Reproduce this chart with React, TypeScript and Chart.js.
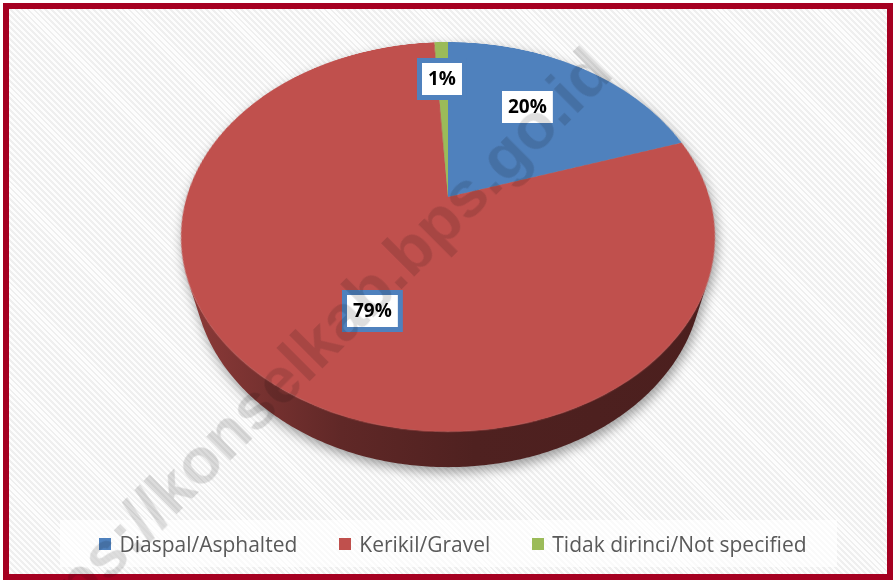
import React, { useEffect, useRef } from "react";
import { Chart, registerables } from "chart.js";
Chart.register(...registerables);

const categories = ["Diaspal/Asphalted", "Kerikil/Gravel", "Tidak dirinci/Not specified"];
const values = [20, 79, 1];
const colors = ["#4F81BD", "#C0504D", "#9BBB59"];
const watermarkText = "https://konselkab.bps.go.id";

const W = 893;
const H = 580;
const CANVAS = 600;
const RADIUS = 261.3;
const CX = 448;
const CY = 197;
const PERSP = 891;
const TILT = 44.4;
const DEPTH3 = 58;
const LABEL_DIST = 0.49;
const LABEL_DROP = 10;

function shade(hex: string, f: number) {
  const n = parseInt(hex.slice(1), 16);
  const r = Math.round(((n >> 16) & 255) * f);
  const g = Math.round(((n >> 8) & 255) * f);
  const b = Math.round((n & 255) * f);
  return `rgb(${r},${g},${b})`;
}

export default function App() {
  const chartRef = useRef<HTMLCanvasElement>(null);
  const sideRef = useRef<HTMLCanvasElement>(null);
  const labelRef = useRef<HTMLCanvasElement>(null);

  useEffect(() => {
    const total = values.reduce((a, b) => a + b, 0);
    const a = (TILT * Math.PI) / 180;
    const ca = Math.cos(a);
    const sa = Math.sin(a);
    // perspective projection of a point of the pie plane (x, y) lowered by depth dz
    const project = (x: number, y: number, dz = 0) => {
      const yr = y * ca + dz * sa;
      const zr = y * sa - dz * ca;
      const w = 1 - zr / PERSP;
      return [CX + x / w, CY + yr / w];
    };

    const overlayPlugin = {
      id: "overlay3d",
      afterDraw(chart: any) {
        const arcs: any[] = chart.getDatasetMeta(0).data;
        if (!arcs.length) return;
        const R = arcs[0].outerRadius;
        const q = Math.min(1, R / (PERSP * sa));
        const v0 = Math.asin(q);
        const v1 = Math.PI - v0;
        const k = (R * sa) / PERSP;
        const rx = R / Math.sqrt(1 - k * k);
        const top = (phi: number, r = R) => project(Math.cos(phi) * r, Math.sin(phi) * r);
        const bot = (phi: number) => project(Math.cos(phi) * R, Math.sin(phi) * R, DEPTH3);
        const N = 240;

        const sctx = sideRef.current!.getContext("2d")!;
        sctx.clearRect(0, 0, W, H);

        // soft shadow of the whole 3D disc (shape drawn off-canvas, only its shadow lands)
        const OFF = 3000;
        sctx.save();
        sctx.beginPath();
        for (let i = 0; i <= N; i++) {
          const [x, y] = top((2 * Math.PI * i) / N);
          if (i === 0) sctx.moveTo(x - OFF, y);
          else sctx.lineTo(x - OFF, y);
        }
        sctx.closePath();
        for (let i = 0; i <= N; i++) {
          const [x, y] = bot(v0 + ((v1 - v0) * i) / N);
          if (i === 0) sctx.moveTo(x - OFF, y);
          else sctx.lineTo(x - OFF, y);
        }
        for (let i = N; i >= 0; i--) {
          const [x, y] = top(v0 + ((v1 - v0) * i) / N);
          sctx.lineTo(x - OFF, y);
        }
        sctx.closePath();
        sctx.shadowColor = "rgba(0,0,0,0.38)";
        sctx.shadowBlur = 12;
        sctx.shadowOffsetX = OFF + 2;
        sctx.shadowOffsetY = 5;
        sctx.fillStyle = "#000";
        sctx.fill("nonzero");
        sctx.restore();

        // side walls, per slice, only where they face the viewer
        arcs.forEach((arc: any, i: number) => {
          const s = Math.max(arc.startAngle, v0);
          const e = Math.min(arc.endAngle, v1);
          if (e <= s) return;
          sctx.beginPath();
          for (let j = 0; j <= N; j++) {
            const [x, y] = top(s + ((e - s) * j) / N);
            if (j === 0) sctx.moveTo(x, y - 0.5);
            else sctx.lineTo(x, y - 0.5);
          }
          for (let j = N; j >= 0; j--) {
            const [x, y] = bot(s + ((e - s) * j) / N);
            sctx.lineTo(x, y);
          }
          sctx.closePath();
          const g = sctx.createLinearGradient(CX - rx, 0, CX + rx, 0);
          const c = colors[i];
          g.addColorStop(0, shade(c, 0.74));
          g.addColorStop(0.3, shade(c, 0.5));
          g.addColorStop(0.55, shade(c, 0.41));
          g.addColorStop(1, shade(c, 0.39));
          sctx.fillStyle = g;
          sctx.fill();
        });

        // data labels: along the on-screen bisector of each projected slice
        const lctx = labelRef.current!.getContext("2d")!;
        lctx.clearRect(0, 0, W, H);
        lctx.font = 'bold 19px "Open Sans"';
        lctx.textAlign = "center";
        lctx.textBaseline = "middle";
        arcs.forEach((arc: any, i: number) => {
          const [sx, sy] = top(arc.startAngle);
          const [ex, ey] = top(arc.endAngle);
          const ts = Math.atan2(sy - CY, sx - CX);
          let sweep = Math.atan2(ey - CY, ex - CX) - ts;
          while (sweep <= 0) sweep += 2 * Math.PI;
          const mid = ts + sweep / 2;
          const L = R * LABEL_DIST;
          const x = CX + Math.cos(mid) * L;
          const y = CY + Math.sin(mid) * L + LABEL_DROP;
          const text = `${Math.round((values[i] / total) * 100)}%`;
          const tw = lctx.measureText(text).width;
          const bw = tw + 12;
          const bh = 32;
          const bx = Math.round(x - bw / 2);
          const by = Math.round(y - bh / 2);
          lctx.fillStyle = "#4F81BD";
          lctx.fillRect(bx - 5, by - 5, bw + 10, bh + 10);
          lctx.fillStyle = "#FFFFFF";
          lctx.fillRect(bx, by, bw, bh);
          lctx.fillStyle = "#000000";
          lctx.fillText(text, bx + bw / 2, by + bh / 2 + 1);
        });
      },
    };

    const chart = new Chart(chartRef.current!, {
      type: "pie",
      data: {
        labels: categories,
        datasets: [{ data: values, backgroundColor: colors, borderWidth: 0 }],
      },
      options: {
        responsive: false,
        animation: false,
        devicePixelRatio: 1,
        radius: RADIUS,
        events: [],
        layout: { padding: 0 },
        plugins: { legend: { display: false }, tooltip: { enabled: false } },
      } as any,
      plugins: [overlayPlugin],
    });
    return () => chart.destroy();
  }, []);

  return (
    <div
      style={{
        position: "absolute",
        left: 0,
        top: 0,
        width: W,
        height: H,
        overflow: "hidden",
        background: "#ffffff",
      }}
    >
      <div
        style={{
          position: "absolute",
          left: 3,
          top: 3,
          width: 890,
          height: 577,
          boxSizing: "border-box",
          border: "6px solid #A50021",
          background:
            "repeating-linear-gradient(45deg, #efefef 0px, #efefef 2px, #fdfdfd 2px, #fdfdfd 4.2px)",
        }}
      />
      <canvas
        ref={sideRef}
        width={W}
        height={H}
        style={{ position: "absolute", left: 0, top: 0, width: W, height: H }}
      />
      <canvas
        ref={chartRef}
        width={CANVAS}
        height={CANVAS}
        style={{
          position: "absolute",
          left: CX - CANVAS / 2,
          top: CY - CANVAS / 2,
          width: CANVAS,
          height: CANVAS,
          transformOrigin: "50% 50%",
          transform: `perspective(${PERSP}px) rotateX(${TILT}deg)`,
        }}
      />
      <canvas
        ref={labelRef}
        width={W}
        height={H}
        style={{ position: "absolute", left: 0, top: 0, width: W, height: H }}
      />
      <div
        style={{
          position: "absolute",
          left: 60,
          top: 520,
          width: 777,
          height: 47,
          boxSizing: "border-box",
          paddingLeft: 9,
          background: "rgba(255,255,255,0.7)",
          display: "flex",
          alignItems: "center",
          justifyContent: "center",
          gap: 42,
        }}
      >
        {categories.map((c, i) => (
          <div key={c} style={{ display: "flex", alignItems: "center" }}>
            <span
              style={{
                display: "inline-block",
                width: 12,
                height: 12,
                background: colors[i],
                marginRight: 8,
              }}
            />
            <span
              style={{
                fontFamily: '"Open Sans", sans-serif',
                fontSize: 21,
                color: "#595959",
                whiteSpace: "nowrap",
              }}
            >
              {c}
            </span>
          </div>
        ))}
      </div>
      <div
        style={{
          position: "absolute",
          left: 302,
          top: 357,
          transform: "translate(-50%, -50%) rotate(-45deg)",
          fontFamily: '"Liberation Sans", Arial, sans-serif',
          fontWeight: "bold",
          fontSize: 65,
          color: "rgba(0,0,0,0.13)",
          whiteSpace: "nowrap",
          pointerEvents: "none",
        }}
      >
        {watermarkText}
      </div>
    </div>
  );
}
